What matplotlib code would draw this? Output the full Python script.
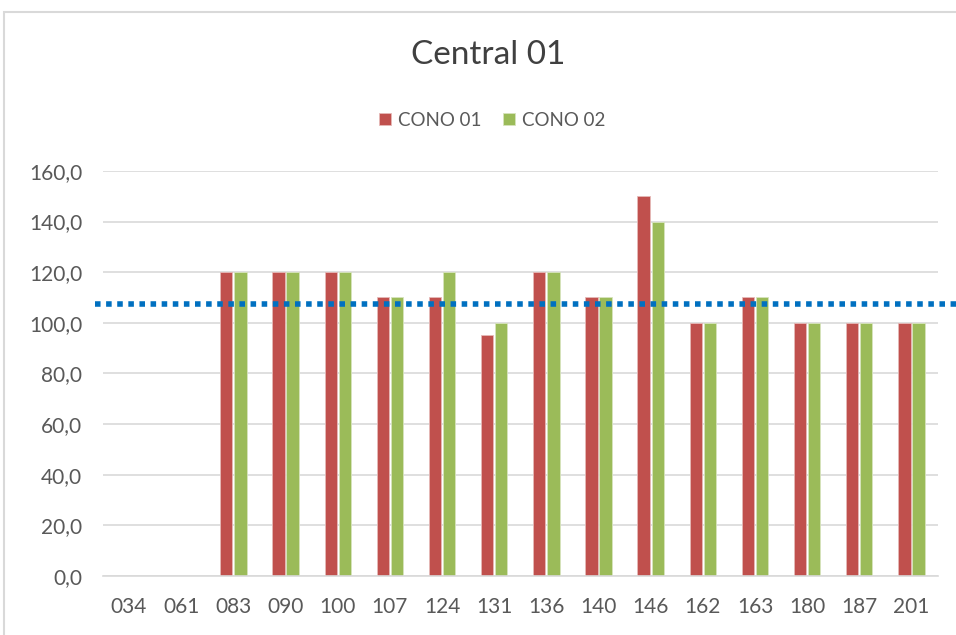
import matplotlib.pyplot as plt
import numpy as np
from matplotlib.patches import Rectangle

categories = ["034", "061", "083", "090", "100", "107", "124", "131",
              "136", "140", "146", "162", "163", "180", "187", "201"]
cono_01 = [np.nan, np.nan, 120, 120, 120, 110, 110, 95,
           120, 110, 150, 100, 110, 100, 100, 100]
cono_02 = [np.nan, np.nan, 120, 120, 120, 110, 120, 100,
           120, 110, 140, 100, 110, 100, 100, 100]
reference_level = 107.5
yticks = [0, 20, 40, 60, 80, 100, 120, 140, 160]

plt.rcParams['font.family'] = ['Lato', 'DejaVu Sans']

fig = plt.figure(figsize=(9.56, 6.35), dpi=100)
ax = fig.add_axes([0.1077, 0.0929, 0.873, 0.638])

# chart frame (cropped on the right and bottom)
fig.patches.append(Rectangle((4 / 956, -0.1), 1.2, 1 - 12 / 635 + 0.1,
                             transform=fig.transFigure, fill=False,
                             edgecolor="#D9D9D9", linewidth=1.5))

x = np.arange(len(categories))
w = 0.235
ax.bar(x - 0.135, cono_01, w, color="#C0504D", edgecolor="#E6B9B8",
       linewidth=0.6, label="CONO 01", zorder=2)
ax.bar(x + 0.135, cono_02, w, color="#9BBB59", edgecolor="#D7E4BD",
       linewidth=0.6, label="CONO 02", zorder=2)

# dotted reference line running past the plot area
ax.plot([-0.01, 1.06], [reference_level, reference_level], color="#0070C0",
        linestyle=(0, (1, 1)), linewidth=4, transform=ax.get_yaxis_transform(),
        clip_on=False, zorder=3)

ax.set_xlim(-0.5, len(categories) - 0.5)
ax.set_ylim(0, 160)
ax.set_yticks(yticks)
ax.set_yticklabels([f"{v:.1f}".replace(".", ",") for v in yticks])
ax.set_xticks(x)
ax.set_xticklabels(categories)
ax.yaxis.grid(True, color="#D9D9D9", linewidth=1.2, zorder=0)
ax.set_axisbelow(True)
for s in ["top", "right", "left"]:
    ax.spines[s].set_visible(False)
ax.spines["bottom"].set_color("#D9D9D9")
ax.spines["bottom"].set_linewidth(1.2)
ax.tick_params(axis="both", length=0, labelsize=15, colors="#595959")
ax.tick_params(axis="x", pad=15)
ax.tick_params(axis="y", pad=15)

fig.text(0.511, 0.9126, "Central 01", ha="center", va="center",
         fontsize=24, color="#404040")
fig.legend(loc="center", bbox_to_anchor=(0.515, 0.811), ncol=2, frameon=False,
           fontsize=13.5, handlelength=0.64, handleheight=0.64,
           handletextpad=0.37, columnspacing=1.17, labelcolor="#595959")

fig.savefig("out.png", dpi=100)
